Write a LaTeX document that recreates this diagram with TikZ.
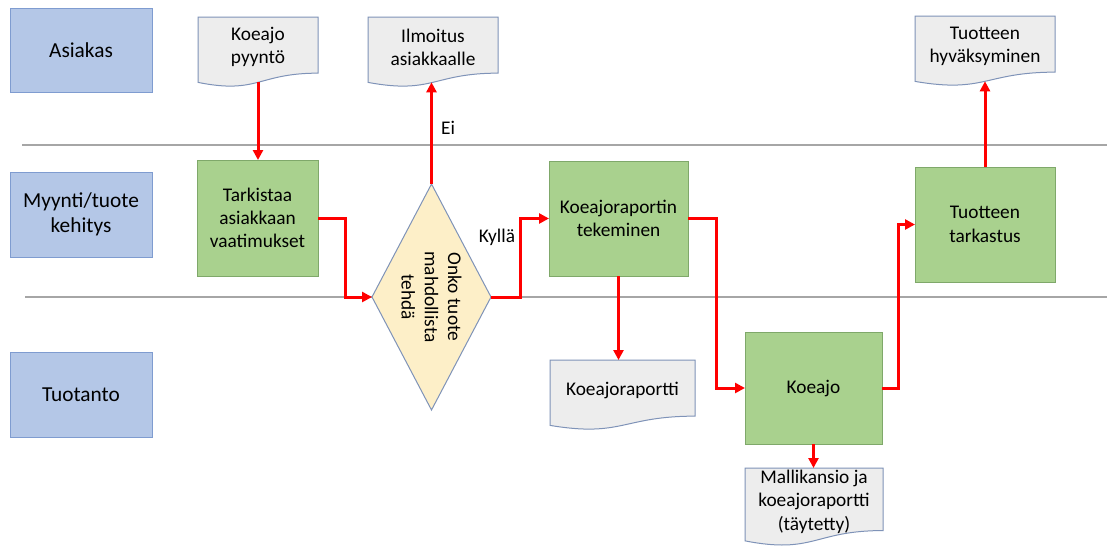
\documentclass[tikz,border=0pt]{standalone}
\usepackage{fontspec}
\setmainfont{Carlito}
\usetikzlibrary{shapes.geometric,arrows.meta,calc}

\definecolor{lanefill}{HTML}{B4C7E7}
\definecolor{laneedge}{HTML}{7F9CD0}
\definecolor{stepfill}{HTML}{A9D18E}
\definecolor{stepedge}{HTML}{7FA86A}
\definecolor{docfill}{HTML}{EDEDED}
\definecolor{docedge}{HTML}{7F93B8}
\definecolor{decfill}{HTML}{FDEFC8}
\definecolor{sepgray}{HTML}{A6A6A6}
\definecolor{flowred}{HTML}{FF0000}

% document symbol: name, x, y (centre), width, height, text
\newcommand\docnode[6]{%
  \node[docbase, minimum width=#4*0.75pt, minimum height=#5*0.75pt] (#1) at (#2,#3) {};
  \draw[docshape] (#1.north west) -- (#1.north east)
    -- ($(#1.north east)!0.802!(#1.south east)$)
    .. controls ($(#1.north)!0.802!(#1.south)$) and ($(#1.north)!1.107!(#1.south)$)
    .. ($(#1.north west)!0.934!(#1.south west)$) -- cycle;
  \coordinate (#1-b) at ($(#1.north)!0.933!(#1.south)$);
  \node[doctext] (#1-t) at ($(#1.north)!0.43!(#1.south)$) {#6};
}

\begin{document}
\begin{tikzpicture}[x=0.75pt,y=-0.75pt,
  every node/.style={font=\fontsize{14.5}{17.5}\selectfont, text=black},
  lanebox/.style={draw=laneedge, fill=lanefill, line width=0.75pt, align=center, inner sep=0pt, outer sep=0pt,
    font=\fontsize{16}{19}\selectfont},
  stepbox/.style={draw=stepedge, fill=stepfill, line width=0.75pt, align=center, inner sep=0pt, outer sep=0pt},
  docbase/.style={inner sep=0pt, outer sep=0pt},
  docshape/.style={draw=docedge, fill=docfill, line width=0.75pt},
  doctext/.style={align=center, inner sep=0pt},
  decbox/.style={diamond, draw=docedge, fill=decfill, line width=0.75pt, inner sep=0pt, outer sep=0pt},
  sepline/.style={draw=sepgray, line width=1.5pt},
  flow/.style={draw=flowred, line width=2.25pt, -{Triangle[length=7.5pt,width=7.5pt]}},
]
\useasboundingbox (0,0) rectangle (1107,547);
\fill[white] (0,0) rectangle (1107,547);

% swimlane separators
\draw[sepline] (22,145) -- (1107,145);
\draw[sepline] (25,297) -- (1107,297);

% lane titles
\node[lanebox, minimum width=142*0.75pt, minimum height=84*0.75pt] (asiakas) at (81,50) {Asiakas};
\node[lanebox, minimum width=142*0.75pt, minimum height=85*0.75pt] (myynti) at (81,214.5) {Myynti/tuote\\kehitys};
\node[lanebox, minimum width=142*0.75pt, minimum height=85*0.75pt] (tuotanto) at (81,394.5) {Tuotanto};

% process steps
\node[stepbox, minimum width=121*0.75pt, minimum height=116*0.75pt] (tark) at (257.5,218) {Tarkistaa\\asiakkaan\\vaatimukset};
\node[stepbox, minimum width=139*0.75pt, minimum height=115*0.75pt] (tek) at (618.5,218.5) {Koeajoraportin\\tekeminen};
\node[stepbox, minimum width=137*0.75pt, minimum height=112*0.75pt] (koeajo) at (813.5,388) {Koeajo};
\node[stepbox, minimum width=140*0.75pt, minimum height=115*0.75pt] (tarkastus) at (985,224.5) {Tuotteen\\tarkastus};

% decision
\node[decbox, minimum width=119*0.75pt, minimum height=226*0.75pt] (dia) at (431.5,297) {};
\node[rotate=-90, align=center, inner sep=0pt] (diatext) at (dia.center) {Onko tuote\\mahdollista\\tehdä};

% documents
\docnode{pyynto}{258}{52}{120}{70}{Koeajo\\pyyntö}
\docnode{ilm}{433}{52}{130}{70}{Ilmoitus\\asiakkaalle}
\docnode{hyv}{985}{51}{140}{70}{Tuotteen\\hyväksyminen}
\docnode{rap}{622.5}{395}{145}{70}{Koeajoraportti}
\docnode{malli}{814}{507}{138}{78}{\fontsize{14.5}{18.4}\selectfont Mallikansio ja\\koeajoraportti\\(täytetty)}

% flow
\draw[flow] (pyynto-b) -- (pyynto-b |- tark.north);
\draw[flow] (tark.east) -- ++(27,0) |- (dia.west);
\draw[flow] (dia.north) -- (dia.north |- ilm-b);
\draw[flow] (dia.east) -- ++(29,0) |- (tek.west);
\draw[flow] (tek.east) -- ++(28,0) |- (koeajo.west);
\draw[flow] (tek.south) -- (tek.south |- rap.north);
\draw[flow] (koeajo.south) -- (koeajo.south |- malli.north);
\draw[flow] (koeajo.east) -- ++(16,0) |- (tarkastus.west);
\draw[flow] (tarkastus.north) -- (tarkastus.north |- hyv-b);

% branch labels
\node (ei) at (448,128) {Ei};
\node (kylla) at (497,237) {Kyllä};
\end{tikzpicture}
\end{document}
